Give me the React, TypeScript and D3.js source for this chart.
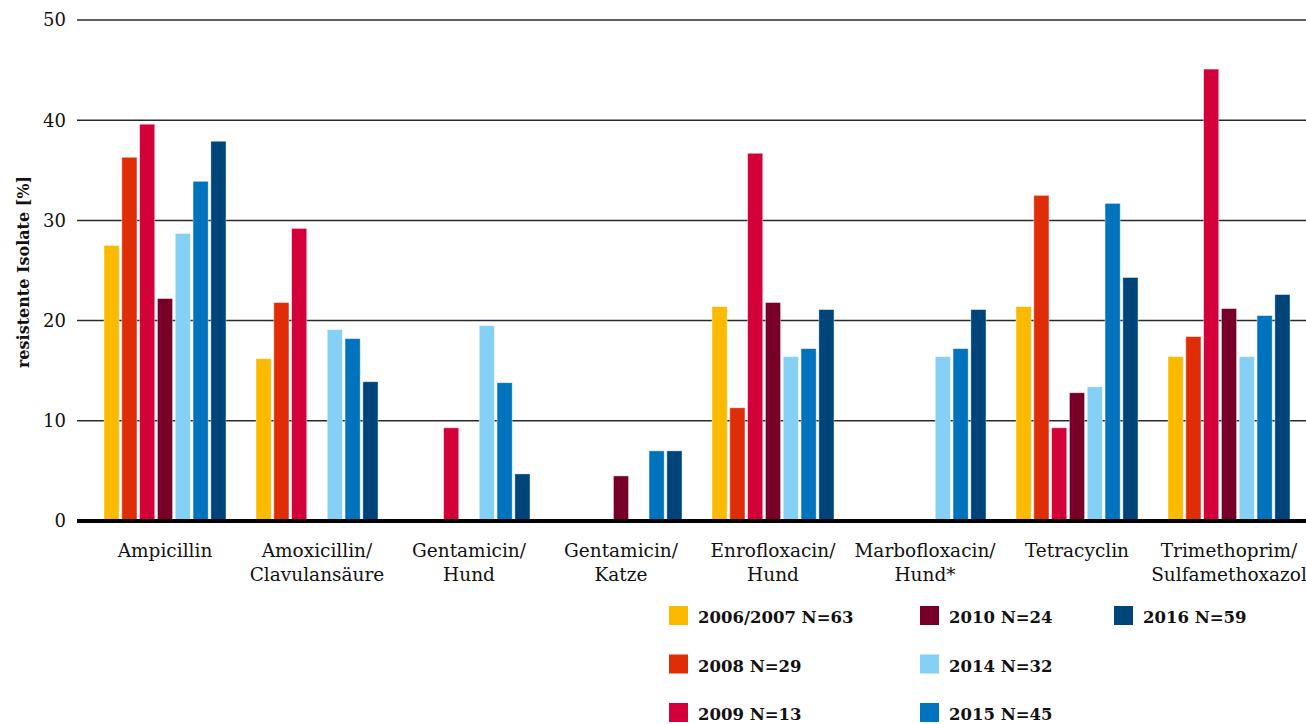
import { useEffect, useRef } from 'react';
import * as d3 from 'd3';

// antibiotics (x axis), "\n" splits the label over two lines
const categories = [
  'Ampicillin',
  'Amoxicillin/\nClavulansäure',
  'Gentamicin/\nHund',
  'Gentamicin/\nKatze',
  'Enrofloxacin/\nHund',
  'Marbofloxacin/\nHund*',
  'Tetracyclin',
  'Trimethoprim/\nSulfamethoxazol',
];

const seriesNames = ['2006/2007 N=63', '2008 N=29', '2009 N=13', '2010 N=24', '2014 N=32', '2015 N=45', '2016 N=59'];
const seriesColors = ['#FBBA00', '#DF2D07', '#D3003A', '#780028', '#86D0F5', '#0073BE', '#00457A'];

// resistant isolates in %, one array per year, null = no bar
const v2006 = [27.5, 16.2, null, null, 21.4, null, 21.4, 16.4];
const v2008 = [36.3, 21.8, null, null, 11.3, null, 32.5, 18.4];
const v2009 = [39.6, 29.2, 9.3, null, 36.7, null, 9.3, 45.1];
const v2010 = [22.2, null, null, 4.5, 21.8, null, 12.8, 21.2];
const v2014 = [28.7, 19.1, 19.5, null, 16.4, 16.4, 13.4, 16.4];
const v2015 = [33.9, 18.2, 13.8, 7.0, 17.2, 17.2, 31.7, 20.5];
const v2016 = [37.9, 13.9, 4.7, 7.0, 21.1, 21.1, 24.3, 22.6];

const yTicks = [0, 10, 20, 30, 40, 50];

const App = () => {
  const svgRef = useRef(null);

  useEffect(() => {
    const width = 1306;
    const height = 724;
    const font = '"DejaVu Serif", "Liberation Serif", serif';
    const values = [v2006, v2008, v2009, v2010, v2014, v2015, v2016];

    const svg = d3.select(svgRef.current)
      .attr('width', width)
      .attr('height', height);
    svg.selectAll('*').remove();

    const x0 = d3.scaleBand().domain(categories).range([89, 1305]).padding(0);
    const x1 = d3.scaleBand().domain(seriesNames).range([15, 137]).paddingInner(0.15);
    const y = d3.scaleLinear().domain([0, 50]).range([521, 20]);

    // gridlines
    svg.append('g')
      .selectAll('line')
      .data(yTicks.filter(t => t > 0))
      .enter().append('line')
      .attr('x1', 77)
      .attr('x2', width)
      .attr('y1', d => y(d))
      .attr('y2', d => y(d))
      .attr('stroke', '#2a2a2a')
      .attr('stroke-width', 1.5);

    // tick labels
    svg.append('g')
      .selectAll('text')
      .data(yTicks)
      .enter().append('text')
      .attr('x', 66)
      .attr('y', d => y(d))
      .attr('dy', '0.36em')
      .attr('text-anchor', 'end')
      .attr('font-family', font)
      .attr('font-size', 18)
      .attr('fill', '#111')
      .text(d => d);

    // bars
    const rows = [];
    values.forEach((arr, si) => {
      arr.forEach((v, ci) => {
        if (v != null) rows.push({ cat: categories[ci], name: seriesNames[si], color: seriesColors[si], value: v });
      });
    });

    svg.append('g')
      .selectAll('rect')
      .data(rows)
      .enter().append('rect')
      .attr('x', d => x0(d.cat) + x1(d.name))
      .attr('y', d => y(d.value))
      .attr('width', x1.bandwidth())
      .attr('height', d => y(0) - y(d.value))
      .attr('fill', d => d.color)
      .attr('stroke', 'rgba(255,255,255,0.5)')
      .attr('stroke-width', 0.8);

    // baseline
    svg.append('line')
      .attr('x1', 77)
      .attr('x2', width)
      .attr('y1', y(0))
      .attr('y2', y(0))
      .attr('stroke', '#000')
      .attr('stroke-width', 4);

    // category labels
    const labels = svg.append('g')
      .selectAll('text')
      .data(categories)
      .enter().append('text')
      .attr('x', d => x0(d) + x0.bandwidth() / 2)
      .attr('y', 557)
      .attr('text-anchor', 'middle')
      .attr('font-family', font)
      .attr('font-size', 18.5)
      .attr('fill', '#111');
    labels.each(function (d) {
      const t = d3.select(this);
      d.split('\n').forEach((line, i) => {
        t.append('tspan')
          .attr('x', x0(d) + x0.bandwidth() / 2)
          .attr('dy', i === 0 ? 0 : 24)
          .text(line);
      });
    });

    // y axis title
    svg.append('text')
      .attr('transform', 'translate(29,272) rotate(-90)')
      .attr('text-anchor', 'middle')
      .attr('font-family', font)
      .attr('font-size', 16)
      .attr('font-weight', 'bold')
      .attr('fill', '#111')
      .text('resistente Isolate [%]');

    // legend, filled column by column
    const legendCols = [669, 920, 1114];
    const legend = svg.append('g')
      .selectAll('g')
      .data(seriesNames)
      .enter().append('g')
      .attr('transform', (d, i) => `translate(${legendCols[Math.floor(i / 3)]},${606 + (i % 3) * 48.5})`);
    legend.append('rect')
      .attr('width', 19)
      .attr('height', 19)
      .attr('fill', (d, i) => seriesColors[i]);
    legend.append('text')
      .attr('x', 29)
      .attr('y', 17)
      .attr('font-family', font)
      .attr('font-size', 16.5)
      .attr('font-weight', 'bold')
      .attr('fill', '#111')
      .text(d => d);
  }, []);

  return (
    <div style={{ position: 'absolute', left: 0, top: 0 }}>
      <svg ref={svgRef}></svg>
    </div>
  );
};

export default App;
